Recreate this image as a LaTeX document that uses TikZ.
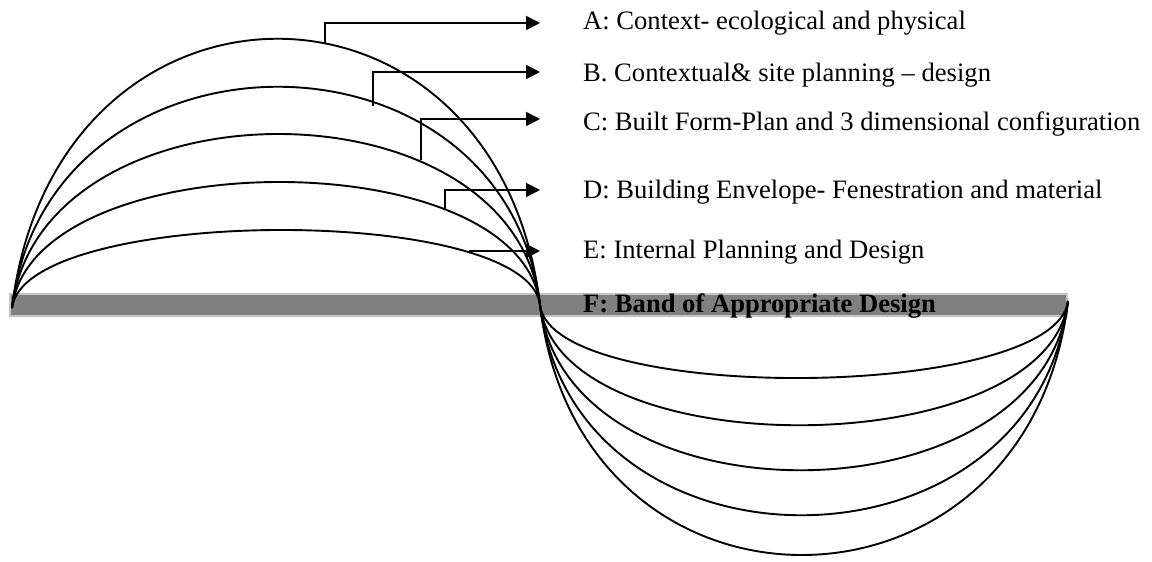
\documentclass[tikz,border=0pt]{standalone}
\usepackage{fontspec}
\setmainfont{Liberation Serif}
\usetikzlibrary{arrows.meta}
\definecolor{bandgray}{HTML}{808080}
\definecolor{bandedge}{HTML}{C4C4C4}
\begin{document}
\begin{tikzpicture}[x=1pt,y=-1pt,
  curve/.style={line width=1.9pt},
  conn/.style={line width=1.9pt,-{Triangle[length=14pt,width=14pt]}},
  lbl/.style={anchor=base west, inner sep=0pt, font=\fontsize{26.6}{30}\selectfont}]
\useasboundingbox (0,0) rectangle (1152,562);
\fill[white] (0,0) rectangle (1152,562);
% band
\draw[fill=bandgray, draw=bandedge, line width=1.8pt] (10,294) rectangle (1067,316);
% end points
\coordinate (L) at (12,308);
\coordinate (M) at (540,305);
\coordinate (R) at (1068,301);
% upper arcs
\draw[curve] (L) .. controls (55,-49) and (497,-52) .. (M);
\draw[curve] (L) .. controls (47,15) and (505,12) .. (M);
\draw[curve] (L) .. controls (40,78) and (512,75) .. (M);
\draw[curve] (L) .. controls (32,142) and (520,139) .. (M);
\draw[curve] (L) .. controls (24,206) and (528,203) .. (M);
% lower arcs
\draw[curve] (M) .. controls (552,405) and (1056,401) .. (R);
\draw[curve] (M) .. controls (560,468) and (1048,464) .. (R);
\draw[curve] (M) .. controls (567,528) and (1041,524) .. (R);
\draw[curve] (M) .. controls (574,588) and (1034,584) .. (R);
\draw[curve] (M) .. controls (580,641) and (1028,637) .. (R);
% labels
\node[lbl] (A) at (583,29) {A: Context- ecological and physical};
\node[lbl] (B) at (583,81) {B. Contextual\& site planning -- design};
\node[lbl] (C) at (583,130) {C: Built Form-Plan and 3 dimensional configuration};
\node[lbl] (D) at (583,198) {D: Building Envelope- Fenestration and material};
\node[lbl] (E) at (583,258) {E: Internal Planning and Design};
\node[lbl, font=\fontsize{26.6}{30}\selectfont\bfseries] (F) at (583,312) {F: Band of Appropriate Design};
% connector points
\coordinate (cA) at (325,44);  \coordinate (tA) at (540,23);
\coordinate (cB) at (373,106); \coordinate (tB) at (540,72);
\coordinate (cC) at (421,160); \coordinate (tC) at (540,119);
\coordinate (cD) at (445,210); \coordinate (tD) at (540,190);
\coordinate (cE) at (469,251); \coordinate (tE) at (540,251);
\draw[conn] (cA) |- (tA);
\draw[conn] (cB) |- (tB);
\draw[conn] (cC) |- (tC);
\draw[conn] (cD) |- (tD);
\draw[conn] (cE) -- (tE);
\end{tikzpicture}
\end{document}
